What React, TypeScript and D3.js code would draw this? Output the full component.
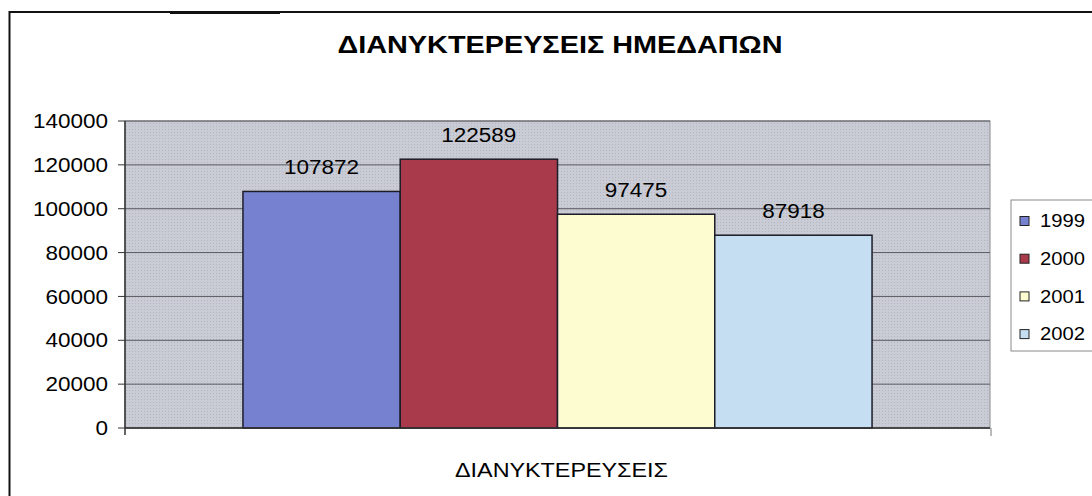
import React from "react";
import * as d3 from "d3";

// chart data
const categories = ["ΔΙΑΝΥΚΤΕΡΕΥΣΕΙΣ"];
const years = ["1999", "2000", "2001", "2002"];
const values = [107872, 122589, 97475, 87918];
const yTicks = [0, 20000, 40000, 60000, 80000, 100000, 120000, 140000];
const title = "ΔΙΑΝΥΚΤΕΡΕΥΣΕΙΣ ΗΜΕΔΑΠΩΝ";

const colors = ["#7682cf", "#a83a4c", "#fdfcd0", "#c6def2"];

const width = 1092;
const height = 496;
const plot = { left: 125, right: 990, top: 121, bottom: 428 };
const font = "'Liberation Sans', Arial, sans-serif";

// the scanned original has slightly widened glyphs
const numW = 12.5;
const legW = 11.25;

const App = () => {
  const x0 = d3
    .scaleBand()
    .domain(categories)
    .range([plot.left, plot.right])
    .padding(0);

  const x1 = d3
    .scaleBand()
    .domain(years)
    .range([0, x0.bandwidth()])
    .paddingInner(0)
    .paddingOuter(0.75);

  const y = d3
    .scaleLinear()
    .domain([0, d3.max(yTicks)])
    .range([plot.bottom, plot.top]);

  const cat = categories[0];

  return (
    <svg
      width={width}
      height={height}
      style={{ position: "absolute", left: 0, top: 0, background: "#fff" }}
    >
      <defs>
        <pattern id="dots" width="3" height="3" patternUnits="userSpaceOnUse">
          <rect width="3" height="3" fill="#c9cbd5" />
          <rect width="1" height="1" fill="#b3b5c0" />
        </pattern>
      </defs>

      {/* outer chart frame */}
      <rect x={9.5} y={12} width={1200} height={600} fill="none" stroke="#111" strokeWidth={2} />
      <line x1={170} x2={280} y1={12.5} y2={12.5} stroke="#111" strokeWidth={3} />

      {/* title */}
      <text
        x={560}
        y={53}
        textAnchor="middle"
        fontFamily={font}
        fontWeight="bold"
        fontSize={24}
        textLength={445}
        lengthAdjust="spacingAndGlyphs"
        fill="#000"
      >
        {title}
      </text>

      {/* plot area */}
      <rect
        x={plot.left}
        y={plot.top}
        width={plot.right - plot.left}
        height={plot.bottom - plot.top}
        fill="url(#dots)"
        stroke="#8a8a90"
        strokeWidth={1}
      />

      {/* gridlines + y ticks */}
      {yTicks.map((t) => (
        <g key={t}>
          <line x1={plot.left} x2={plot.right} y1={y(t)} y2={y(t)} stroke="#5a5a60" strokeWidth={1} />
          <line x1={plot.left - 7} x2={plot.left} y1={y(t)} y2={y(t)} stroke="#333" strokeWidth={1} />
          <text
            x={plot.left - 17}
            y={y(t)}
            dy="0.36em"
            textAnchor="end"
            fontFamily={font}
            fontSize={20}
            textLength={String(t).length * numW}
            lengthAdjust="spacingAndGlyphs"
            fill="#000"
          >
            {t}
          </text>
        </g>
      ))}

      {/* bars */}
      {values.map((v, i) => {
        const bx = (x0(cat) ?? 0) + (x1(years[i]) ?? 0);
        return (
          <g key={years[i]}>
            <rect
              x={bx}
              y={y(v)}
              width={x1.bandwidth()}
              height={plot.bottom - y(v)}
              fill={colors[i]}
              stroke="#1c1c28"
              strokeWidth={1.5}
            />
            <text
              x={bx + x1.bandwidth() / 2}
              y={y(v) - 17}
              textAnchor="middle"
              fontFamily={font}
              fontSize={20}
              textLength={String(v).length * numW}
              lengthAdjust="spacingAndGlyphs"
              fill="#000"
            >
              {v}
            </text>
          </g>
        );
      })}

      {/* axes */}
      <line x1={plot.left} x2={plot.left} y1={plot.top} y2={plot.bottom + 7} stroke="#333" strokeWidth={1.5} />
      <line x1={plot.left} x2={plot.right} y1={plot.bottom} y2={plot.bottom} stroke="#333" strokeWidth={1.5} />
      <line x1={plot.right + 1} x2={plot.right + 1} y1={plot.bottom} y2={plot.bottom + 8} stroke="#777" strokeWidth={1} />

      {/* x axis category label */}
      <text
        x={(x0(cat) ?? 0) + x0.bandwidth() / 2 + 4}
        y={477}
        textAnchor="middle"
        fontFamily={font}
        fontSize={20}
        textLength={213}
        lengthAdjust="spacingAndGlyphs"
        fill="#000"
      >
        {cat}
      </text>

      {/* legend */}
      <rect x={1011} y={200} width={120} height={151} fill="#fff" stroke="#8a8a8a" strokeWidth={1} />
      {years.map((yr, i) => {
        const cy = 221 + i * 37.7;
        return (
          <g key={yr}>
            <rect x={1020} y={cy - 4.5} width={9} height={9} fill={colors[i]} stroke="#222" strokeWidth={1} />
            <text
              x={1040}
              y={cy}
              dy="0.36em"
              fontFamily={font}
              fontSize={17.5}
              textLength={yr.length * legW}
              lengthAdjust="spacingAndGlyphs"
              fill="#000"
            >
              {yr}
            </text>
          </g>
        );
      })}
    </svg>
  );
};

export default App;
